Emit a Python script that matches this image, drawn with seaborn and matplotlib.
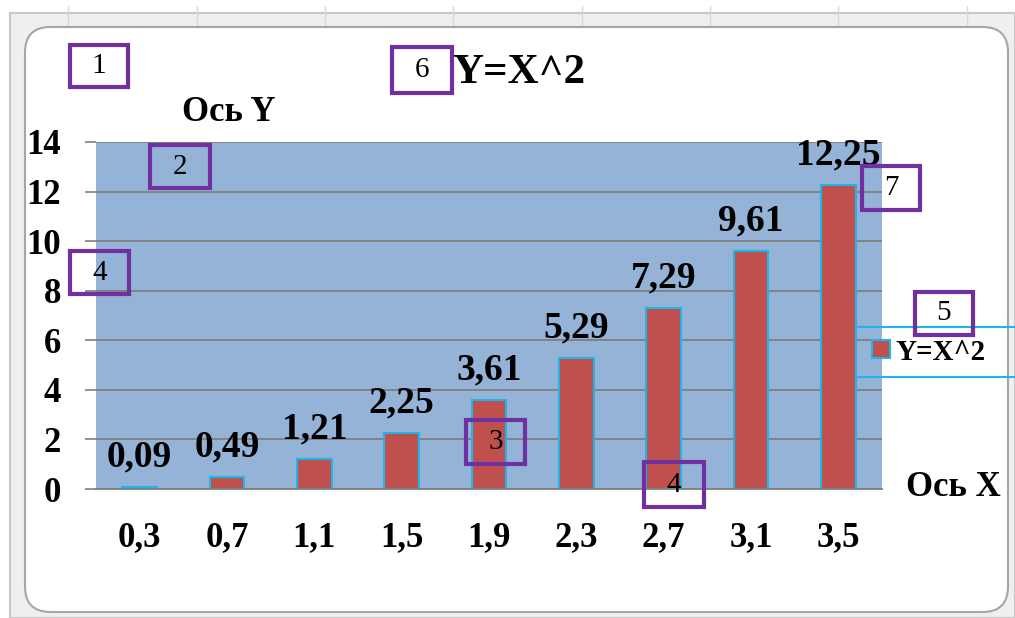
import matplotlib.pyplot as plt
import seaborn as sns
from matplotlib.patches import FancyBboxPatch, Rectangle
from matplotlib.lines import Line2D

# data
x_labels = ["0,3", "0,7", "1,1", "1,5", "1,9", "2,3", "2,7", "3,1", "3,5"]
y_values = [0.09, 0.49, 1.21, 2.25, 3.61, 5.29, 7.29, 9.61, 12.25]
value_labels = ["0,09", "0,49", "1,21", "2,25", "3,61", "5,29", "7,29", "9,61", "12,25"]
y_ticks = [0, 2, 4, 6, 8, 10, 12, 14]
series_name = "Y=X^2"
chart_title = "Y=X^2"
x_title = "Ось X"
y_title = "Ось Y"
marker_numbers = ["1", "6", "2", "4", "7", "5", "3", "4"]

sns.set_style("white")
plt.rcParams["font.family"] = ["Liberation Serif", "DejaVu Serif"]
plt.rcParams["text.color"] = "black"

W, H = 1015, 618
fig = plt.figure(figsize=(W / 100, H / 100), dpi=100)
fig.patch.set_facecolor("white")


def fx(px):
    return px / W


def fy(py):
    return 1 - py / H


bar_red = "#C0504D"
cyan = "#1FB5E8"
purple = "#7030A0"

# excel frame around the chart
fig.add_artist(Rectangle((fx(10), 0), fx(1015) - fx(10), fy(13), transform=fig.transFigure,
                         facecolor="#EFEFEF", edgecolor="#C8C8C8", lw=1.5, zorder=-3))
for gx in [68, 197, 325, 453, 582, 710, 838, 967]:
    fig.add_artist(Line2D([fx(gx)] * 2, [fy(6), fy(27)], color="#D8D8D8", lw=1, zorder=-2))
fig.add_artist(FancyBboxPatch((fx(25), fy(612)), fx(1008) - fx(25), fy(27) - fy(612),
                              boxstyle="round,pad=0,rounding_size=0.025", mutation_aspect=W / H,
                              transform=fig.transFigure, facecolor="white", edgecolor="#A6A6A6",
                              lw=1.5, zorder=-1))

ax = fig.add_axes([fx(96), fy(489), fx(882) - fx(96), (489 - 142) / H])
sns.barplot(x=x_labels, y=y_values, color=bar_red, edgecolor=cyan, linewidth=1.5,
            width=0.4, saturation=1, ax=ax)
ax.set_facecolor("#95B3D7")
ax.set_xlim(-0.5, len(x_labels) - 0.5)
ax.set_ylim(0, 14)
ax.set_yticks(y_ticks)
ax.set_yticklabels([str(t) for t in y_ticks], fontsize=25, fontweight="bold", color="black")
ax.set_xticks(range(len(x_labels)))
ax.set_xticklabels(x_labels, fontsize=25, fontweight="bold", color="black")
ax.set_xticks([i - 0.5 for i in range(len(x_labels) + 1)], minor=True)
ax.yaxis.grid(True, color="#7F7F7F", lw=1.3)
ax.xaxis.grid(False)
ax.set_axisbelow(True)
for side in ["top", "right", "left"]:
    ax.spines[side].set_visible(False)
ax.spines["bottom"].set_color("#7F7F7F")
ax.spines["bottom"].set_linewidth(1.3)
ax.tick_params(axis="x", which="major", length=0, pad=23)
ax.tick_params(axis="x", which="minor", length=9, width=1.2, color="#7F7F7F", direction="out")
ax.tick_params(axis="y", length=8, width=1.2, color="#7F7F7F", direction="out", pad=17, left=True)
ax.set_xlabel("")
ax.set_ylabel("")
ax.bar_label(ax.containers[0], labels=value_labels, padding=9, fontsize=27,
             fontweight="bold", color="black")

# titles
fig.text(fx(519), fy(73), chart_title, ha="center", va="center", fontsize=31, fontweight="bold")
fig.text(fx(229), fy(112), y_title, ha="center", va="center", fontsize=25, fontweight="bold")
fig.text(fx(906), fy(488), x_title, ha="left", va="center", fontsize=25, fontweight="bold")

# legend
handle = Rectangle((0, 0), 1, 1, facecolor=bar_red, edgecolor=cyan, lw=1.5)
fig.legend([handle], [series_name], loc="center left", bbox_to_anchor=(fx(872), fy(352)),
           frameon=False, prop={"weight": "bold", "size": 21}, handlelength=0.6,
           handleheight=0.6, handletextpad=0.2, borderaxespad=0, borderpad=0)
for ly in [327, 377]:
    fig.add_artist(Line2D([fx(858), 1], [fy(ly)] * 2, color=cyan, lw=1.5, zorder=2))

# purple numbered annotation boxes
boxes = [(70, 45, 128, 87), (392, 47, 452, 93), (150, 145, 210, 188), (70, 251, 129, 294),
         (862, 166, 920, 210), (915, 292, 973, 335), (466, 420, 525, 464), (644, 462, 704, 507)]
for num, (x0, y0, x1, y1) in zip(marker_numbers, boxes):
    fig.add_artist(Rectangle((fx(x0), fy(y1)), fx(x1) - fx(x0), fy(y0) - fy(y1),
                             transform=fig.transFigure, fill=False, edgecolor=purple,
                             lw=3, zorder=5))
    fig.text(fx((x0 + x1) / 2), fy((y0 + y1) / 2), num, ha="center", va="center",
             fontsize=21, zorder=6)

fig.savefig("out.png", dpi=100)
